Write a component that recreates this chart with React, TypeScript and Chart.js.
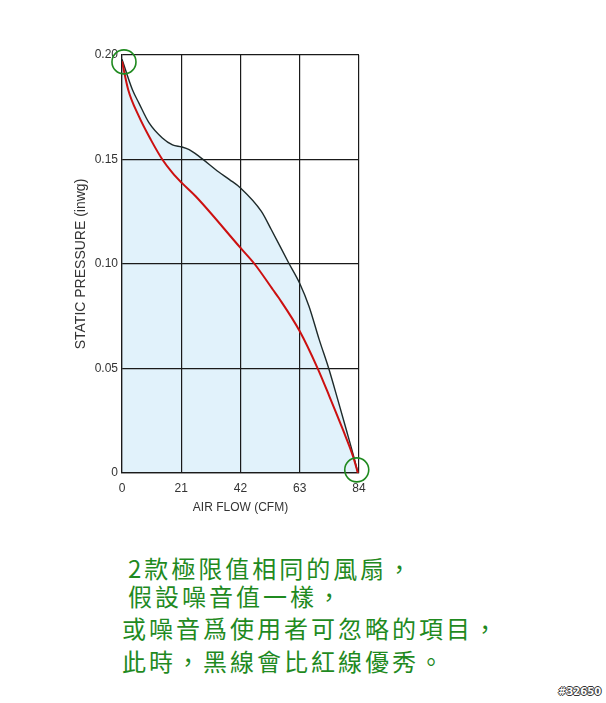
import { useEffect, useRef } from "react";
import { Chart, registerables } from "chart.js";

Chart.register(...registerables);

// air flow (CFM) / static pressure (inwg)
const blackFlow = [0, 3.7, 6, 9.6, 14.3, 17.9, 21.2, 23.8, 27.3, 34.3, 38.1, 42, 49.4, 52.9, 59.1, 63, 66.3, 69.9, 73.3, 76.5, 79.5, 82.5, 83.6];
const blackPressure = [0.198, 0.1834, 0.177, 0.1675, 0.1603, 0.157, 0.156, 0.1547, 0.1515, 0.144, 0.1404, 0.1364, 0.1252, 0.1165, 0.1005, 0.0907, 0.0797, 0.0638, 0.0499, 0.035, 0.0207, 0.006, 0];

const redFlow = [0, 2.2, 6, 10.2, 14.3, 17.9, 21.2, 26.1, 42, 47, 53.5, 55.6, 63, 69.3, 73.5, 78.3, 81.9, 83.6];
const redPressure = [0.197, 0.1834, 0.1706, 0.1595, 0.15, 0.1436, 0.1388, 0.1324, 0.1077, 0.1, 0.0877, 0.0837, 0.0678, 0.0502, 0.0367, 0.0207, 0.0079, 0];

// circled end points
const markFlow = [0.7, 83.2];
const markPressure = [0.1967, 0.0015];

const xTicks = [0, 21, 42, 63, 84];
const yTicks = [0, 0.05, 0.1, 0.15, 0.2];

const notes = [
  "2款極限值相同的風扇，",
  "假設噪音值一樣，",
  "或噪音爲使用者可忽略的項目，",
  "此時，黑線會比紅線優秀。",
];

const zip = (xs: number[], ys: number[]) => xs.map((x, i) => ({ x, y: ys[i] }));

function FanCurve() {
  const chartRef = useRef<HTMLCanvasElement>(null);
  const chartInstance = useRef<Chart | null>(null);

  useEffect(() => {
    if (!chartRef.current) return;
    if (chartInstance.current) chartInstance.current.destroy();
    const ctx = chartRef.current.getContext("2d");
    if (!ctx) return;

    const gridColor = "#1a1a1a";
    const tickFont = { family: "'Liberation Sans', Arial, sans-serif", size: 12 };

    chartInstance.current = new Chart(ctx, {
      type: "scatter",
      data: {
        datasets: [
          {
            label: "marks",
            data: zip(markFlow, markPressure),
            showLine: false,
            pointRadius: 12,
            pointHoverRadius: 12,
            pointBorderWidth: 1.6,
            pointBorderColor: "#1f8a1f",
            pointBackgroundColor: "rgba(0,0,0,0)",
            clip: false,
          },
          {
            label: "red",
            data: zip(redFlow, redPressure),
            showLine: true,
            borderColor: "#cc1010",
            borderWidth: 2,
            pointRadius: 0,
            cubicInterpolationMode: "monotone",
            fill: false,
          },
          {
            label: "black",
            data: zip(blackFlow, blackPressure),
            showLine: true,
            borderColor: "#1e2a2a",
            borderWidth: 1.4,
            pointRadius: 0,
            cubicInterpolationMode: "monotone",
            fill: "origin",
            backgroundColor: "#e1f2fb",
          },
        ],
      },
      options: {
        responsive: true,
        maintainAspectRatio: false,
        animation: false,
        layout: { padding: { left: 71, top: 55, right: 247, bottom: 22 } },
        plugins: {
          legend: { display: false },
          tooltip: { enabled: false },
          // fill goes under the grid lines
          filler: { drawTime: "beforeDraw" },
        },
        scales: {
          x: {
            type: "linear",
            min: 0,
            max: 84,
            afterBuildTicks: (s) => {
              s.ticks = xTicks.map((value) => ({ value }));
            },
            afterFit: (s) => {
              s.height = 45;
            },
            ticks: { font: tickFont, color: "#333", padding: 8, maxRotation: 0 },
            grid: { color: gridColor, lineWidth: 1.2, drawTicks: false },
            border: { color: gridColor, width: 1.2 },
            title: {
              display: true,
              text: "AIR FLOW (CFM)",
              font: { ...tickFont, size: 12 },
              color: "#333",
              padding: { top: 0, bottom: 3 },
            },
          },
          y: {
            min: 0,
            max: 0.2,
            afterBuildTicks: (s) => {
              s.ticks = yTicks.map((value) => ({ value }));
            },
            afterFit: (s) => {
              s.width = 51;
            },
            ticks: {
              font: tickFont,
              color: "#333",
              padding: 4,
              callback: (v) => (Number(v) === 0 ? "0" : Number(v).toFixed(2)),
            },
            grid: { color: gridColor, lineWidth: 1.2, drawTicks: false },
            border: { color: gridColor, width: 1.2 },
            title: {
              display: true,
              text: "STATIC PRESSURE (inwg)",
              font: { ...tickFont, size: 14 },
              color: "#333",
              padding: { top: 2, bottom: 0 },
            },
          },
        },
      },
    });

    return () => {
      if (chartInstance.current) {
        chartInstance.current.destroy();
        chartInstance.current = null;
      }
    };
  }, []);

  return (
    <div style={{ position: "absolute", left: 0, top: 0, width: 606, height: 540 }}>
      <canvas ref={chartRef} />
    </div>
  );
}

export default function App() {
  const lineTops = [556, 584, 616, 649];
  const lineLefts = [128, 128, 122, 122];
  return (
    <div
      style={{
        position: "absolute",
        left: 0,
        top: 0,
        width: 606,
        height: 703,
        background: "#fff",
        overflow: "hidden",
      }}
    >
      <FanCurve />
      {notes.map((t, i) => (
        <div
          key={i}
          style={{
            position: "absolute",
            left: lineLefts[i],
            top: lineTops[i],
            fontFamily: "'Noto Sans CJK TC', sans-serif",
            fontSize: 24,
            lineHeight: "24px",
            letterSpacing: 3,
            color: "#1f8a1f",
            whiteSpace: "nowrap",
          }}
        >
          {t}
        </div>
      ))}
      <div
        style={{
          position: "absolute",
          left: 558,
          top: 686,
          fontFamily: "'DejaVu Sans', sans-serif",
          fontWeight: "bold",
          fontSize: 10,
          lineHeight: "12px",
          color: "#fff",
          textShadow: "1px 0 0 #333, -1px 0 0 #333, 0 1px 0 #333, 0 -1px 0 #333",
        }}
      >
        #32650
      </div>
    </div>
  );
}
